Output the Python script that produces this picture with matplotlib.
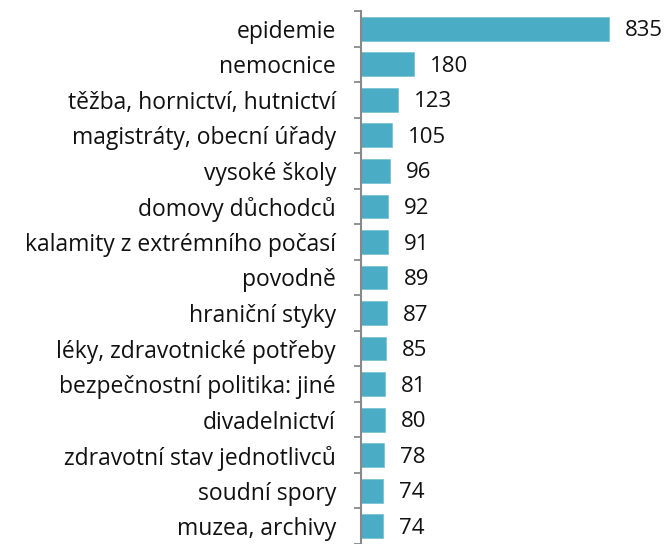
import matplotlib
matplotlib.use('Agg')
import matplotlib.pyplot as plt
import numpy as np

categories = ['epidemie', 'nemocnice', 'těžba, hornictví, hutnictví',
              'magistráty, obecní úřady', 'vysoké školy', 'domovy důchodců',
              'kalamity z extrémního počasí', 'povodně', 'hraniční styky',
              'léky, zdravotnické potřeby', 'bezpečnostní politika: jiné',
              'divadelnictví', 'zdravotní stav jednotlivců', 'soudní spory',
              'muzea, archivy']
values = [835, 180, 123, 105, 96, 92, 91, 89, 87, 85, 81, 80, 78, 74, 74]

plt.rcParams['font.family'] = ['Open Sans', 'DejaVu Sans']

fig = plt.figure(figsize=(6.69, 5.44), dpi=100)
ax = fig.add_axes([361 / 669, 0.0, 1 - 361 / 669, 1 - 11 / 544])

y = np.arange(len(categories))
bars = ax.barh(y, values, height=0.67, color='#4BACC6', edgecolor='#7cc3d6', linewidth=0.6)

for b, v in zip(bars, values):
    ax.annotate(str(v), (b.get_width(), b.get_y() + b.get_height() / 2),
                xytext=(11.5, -1.5), textcoords='offset points',
                ha='left', va='center', fontsize=16, color='#111111')

ax.set_xlim(0, 1037)
ax.set_ylim(len(categories) - 0.5, -0.5)
ax.set_yticks(y)
ax.set_yticklabels(categories, fontsize=16.5, color='#111111')
ax.set_yticks(np.arange(-0.5, len(categories)), minor=True)
ax.tick_params(axis='y', which='major', length=0, pad=18)
ax.tick_params(axis='y', which='minor', length=5, width=1.3, color='#888888')
ax.set_xticks([])

for s in ['top', 'right', 'bottom']:
    ax.spines[s].set_visible(False)
ax.spines['left'].set_color('#888888')
ax.spines['left'].set_linewidth(1.5)

fig.savefig('out.png', dpi=100)
